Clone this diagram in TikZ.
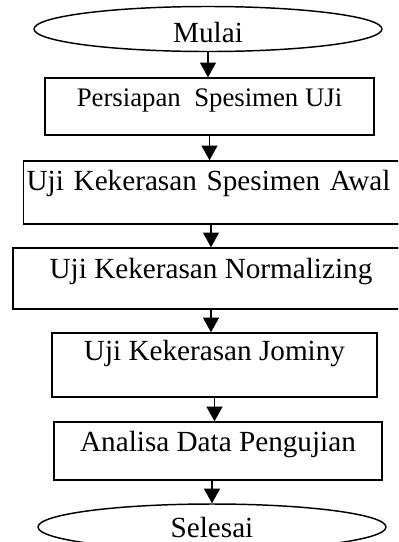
\documentclass[tikz,border=0pt]{standalone}
\usepackage{fontspec}
\setmainfont{Liberation Serif}
\usetikzlibrary{shapes.geometric, arrows.meta}

\begin{document}
\begin{tikzpicture}[
    x=0.411pt, y=-0.411pt,
    terminal/.style={ellipse, draw=black, line width=0.6pt, minimum width=143pt, inner sep=0pt, font=\fontsize{12}{14}\selectfont, text depth=0pt},
    process/.style={rectangle, draw=black, line width=0.6pt, inner sep=0pt, font=\fontsize{12}{14}\selectfont, text height=8pt, text depth=8pt},
    arrow/.style={-{Triangle[width=6.5pt, length=6pt]}, line width=0.6pt}
]

% Page frame (the wide boxes run past the right edge)
\useasboundingbox (0,0) rectangle (398,542);
\clip (0,0) rectangle (398,542);

% Start / end
\node (mulai) [terminal, minimum height=18.5pt, text height=11.5pt] at (208,29) {Mulai};
\node (selesai) [terminal, minimum height=18.9pt, text height=9pt] at (212,527) {Selesai};

% Steps
\node (persiapan) [process, minimum width=135.2pt, minimum height=23.4pt, font=\fontsize{11}{13}\selectfont] at (209.5,106.5) {Persiapan\ \ Spesimen UJi};
\node (awal) [process, anchor=west, inner xsep=1.2pt, text width=158pt, align=left, minimum height=25.9pt, text depth=10pt] at (23,192.5) {Uji Kekerasan Spesimen Awal};
\node (normalizing) [process, minimum width=162.8pt, minimum height=25.1pt] at (211,278.5) {Uji Kekerasan Normalizing};
\node (jominy) [process, minimum width=133.6pt, minimum height=26.3pt, text depth=11.3pt] at (214.5,365) {Uji Kekerasan Jominy};
\node (analisa) [process, minimum width=134.8pt, minimum height=23.8pt] at (218,451) {Analisa Data Pengujian};

% Arrows
\draw [arrow] (mulai) -- (mulai |- persiapan.north);
\draw [arrow] (persiapan) -- (persiapan |- awal.north);
\draw [arrow] (awal.south -| normalizing) -- (normalizing);
\draw [arrow] (normalizing) -- (normalizing |- jominy.north);
\draw [arrow] (jominy) -- (jominy |- analisa.north);
\draw [arrow] (analisa.south -| selesai) -- (selesai);

\end{tikzpicture}
\end{document}
